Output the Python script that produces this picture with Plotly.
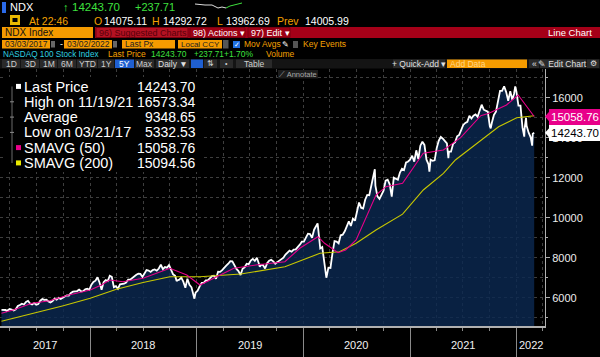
import plotly.graph_objects as go

# ---------------- DATA ----------------
price_dates = [
    "2017-03-03","2017-03-10","2017-03-17","2017-03-21","2017-03-31","2017-04-07","2017-04-14","2017-04-21","2017-04-28",
    "2017-05-05","2017-05-12","2017-05-19","2017-05-26","2017-06-02","2017-06-09","2017-06-16","2017-06-23","2017-06-30",
    "2017-07-07","2017-07-14","2017-07-21","2017-07-28","2017-08-04","2017-08-11","2017-08-18","2017-08-25",
    "2017-09-01","2017-09-08","2017-09-15","2017-09-22","2017-09-29","2017-10-06","2017-10-13","2017-10-20","2017-10-27",
    "2017-11-03","2017-11-10","2017-11-17","2017-11-24","2017-12-01","2017-12-08","2017-12-15","2017-12-22","2017-12-29",
    "2018-01-05","2018-01-12","2018-01-19","2018-01-26","2018-02-02","2018-02-09","2018-02-16","2018-02-23",
    "2018-03-02","2018-03-09","2018-03-16","2018-03-23","2018-03-30","2018-04-06","2018-04-13","2018-04-20","2018-04-27",
    "2018-05-04","2018-05-11","2018-05-18","2018-05-25","2018-06-01","2018-06-08","2018-06-15","2018-06-22","2018-06-29",
    "2018-07-06","2018-07-13","2018-07-20","2018-07-27","2018-08-03","2018-08-10","2018-08-17","2018-08-24","2018-08-31",
    "2018-09-07","2018-09-14","2018-09-21","2018-09-28","2018-10-05","2018-10-12","2018-10-19","2018-10-24","2018-10-26",
    "2018-11-02","2018-11-09","2018-11-16","2018-11-23","2018-11-30","2018-12-07","2018-12-14","2018-12-21","2018-12-24","2018-12-28",
    "2019-01-04","2019-01-11","2019-01-18","2019-01-25","2019-02-01","2019-02-08","2019-02-15","2019-02-22",
    "2019-03-01","2019-03-08","2019-03-15","2019-03-22","2019-03-29","2019-04-05","2019-04-12","2019-04-19","2019-04-26",
    "2019-05-03","2019-05-10","2019-05-17","2019-05-24","2019-05-31","2019-06-07","2019-06-14","2019-06-21","2019-06-28",
    "2019-07-05","2019-07-12","2019-07-19","2019-07-26","2019-08-02","2019-08-05","2019-08-09","2019-08-16","2019-08-23","2019-08-30",
    "2019-09-06","2019-09-13","2019-09-20","2019-09-27","2019-10-04","2019-10-11","2019-10-18","2019-10-25",
    "2019-11-01","2019-11-08","2019-11-15","2019-11-22","2019-11-29","2019-12-06","2019-12-13","2019-12-20","2019-12-27",
    "2020-01-03","2020-01-10","2020-01-17","2020-01-24","2020-01-31","2020-02-07","2020-02-14","2020-02-19","2020-02-21","2020-02-28",
    "2020-03-06","2020-03-13","2020-03-20","2020-03-27","2020-04-03","2020-04-10","2020-04-17","2020-04-24",
    "2020-05-01","2020-05-08","2020-05-15","2020-05-22","2020-05-29","2020-06-05","2020-06-12","2020-06-19","2020-06-26",
    "2020-07-03","2020-07-10","2020-07-17","2020-07-24","2020-07-31","2020-08-07","2020-08-14","2020-08-21","2020-08-28","2020-09-02",
    "2020-09-04","2020-09-11","2020-09-18","2020-09-25","2020-10-02","2020-10-09","2020-10-16","2020-10-23","2020-10-30",
    "2020-11-06","2020-11-13","2020-11-20","2020-11-27","2020-12-04","2020-12-11","2020-12-18","2020-12-24","2020-12-31",
    "2021-01-08","2021-01-15","2021-01-22","2021-01-29","2021-02-05","2021-02-12","2021-02-19","2021-02-26",
    "2021-03-05","2021-03-08","2021-03-12","2021-03-19","2021-03-26","2021-04-02","2021-04-09","2021-04-16","2021-04-23","2021-04-30",
    "2021-05-07","2021-05-12","2021-05-14","2021-05-21","2021-05-28","2021-06-04","2021-06-11","2021-06-18","2021-06-25",
    "2021-07-02","2021-07-09","2021-07-16","2021-07-23","2021-07-30","2021-08-06","2021-08-13","2021-08-20","2021-08-27",
    "2021-09-03","2021-09-10","2021-09-17","2021-09-24","2021-10-01","2021-10-04","2021-10-08","2021-10-15","2021-10-22","2021-10-29",
    "2021-11-05","2021-11-12","2021-11-19","2021-11-26","2021-12-03","2021-12-10","2021-12-17","2021-12-23","2021-12-27","2021-12-31",
    "2022-01-07","2022-01-14","2022-01-21","2022-01-27","2022-01-28","2022-02-02","2022-02-04","2022-02-11","2022-02-18",
    "2022-02-23","2022-02-25","2022-03-02",
]
price_values = [
    5390,5380,5385,5333,5436,5410,5360,5420,5584,
    5636,5700,5660,5788,5845,5710,5660,5730,5647,
    5680,5850,5930,5890,5900,5810,5765,5830,
    5955,5900,5990,5940,6000,6090,6120,6110,6240,
    6300,6330,6330,6400,6320,6330,6420,6450,6396,
    6650,6790,6850,7020,6760,6400,6780,6880,
    6830,7100,7040,6530,6580,6450,6670,6690,6700,
    6760,6900,6900,6980,7100,7150,7200,7190,7040,
    7190,7380,7360,7290,7380,7410,7350,7460,7650,
    7430,7530,7500,7630,7400,7170,7100,6830,6860,
    6900,7000,6800,6500,6950,6650,6520,6000,5950,6250,
    6350,6570,6740,6740,6870,6870,6980,7080,
    7100,6950,7300,7290,7380,7520,7600,7700,7830,
    7820,7600,7440,7330,7130,7450,7520,7700,7670,
    7860,7940,7840,8000,7700,7550,7650,7630,7460,7720,
    7850,7900,7820,7700,7780,7860,7900,8000,
    8160,8250,8350,8300,8400,8420,8520,8650,8800,
    8800,9000,9200,9180,9000,9400,9620,9718,9450,8460,
    8530,7880,7000,7500,7490,8230,8830,8810,
    8720,9120,9150,9320,9550,9820,9590,9950,9850,
    10340,10760,10500,10460,10900,11140,11120,11600,11950,12420,
    11600,11070,10940,11120,11350,11850,11900,11670,11050,
    12000,11950,11900,12260,12450,12380,12760,12800,12888,
    13100,12800,13370,12930,13600,13800,13640,12900,
    12670,12300,12900,12850,12870,13480,13850,14040,13950,13860,
    13720,12980,13300,13300,13690,13770,14070,14140,14360,
    14640,14740,14790,15100,14960,15100,15160,15050,15370,
    15650,15400,15330,15300,14570,14470,14750,15140,15300,15850,
    16340,16340,16573,16280,15850,16330,15900,16200,16560,16320,
    15600,15600,14500,14050,14440,15000,14600,14250,14020,
    13600,14200,14243.70,
]

sma50_dates = ["2017-03-03","2017-04-15","2017-06-15","2017-08-15","2017-10-20","2018-01-01","2018-02-10",
               "2018-03-09","2018-04-23","2018-07-01","2018-10-01","2018-11-28","2019-01-12","2019-03-24",
               "2019-05-08","2019-07-29","2019-10-30","2019-12-20","2020-02-20","2020-03-14","2020-04-29",
               "2020-05-25","2020-06-30","2020-09-06","2020-10-10","2020-12-06","2021-02-15","2021-04-25",
               "2021-06-23","2021-08-31","2021-09-28","2021-11-27","2022-01-06","2022-03-02"]
sma50_values = [5220, 5400, 5720, 5850, 6135, 6385, 6650,
                6885, 6800, 6970, 7470, 7135, 6635, 7135,
                7470, 7650, 7800, 8470, 9050, 8720, 8250,
                8385, 8885, 11135, 11550, 11720, 13220, 13385,
                14000, 15100, 15220, 15635, 16135, 15058.76]

sma200_dates = ["2017-03-03","2017-06-15","2017-10-01","2018-01-01","2018-04-01","2018-07-01","2018-10-01",
                "2019-01-12","2019-06-01","2019-10-30","2020-01-24","2020-02-27","2020-05-04","2020-06-30",
                "2020-09-06","2020-12-06","2021-02-15","2021-04-25","2021-06-05","2021-08-03","2021-09-18",
                "2021-10-31","2022-01-01","2022-03-02"]
sma200_values = [4820, 5200, 5600, 5970, 6420, 6760, 7050,
                 7050, 7185, 7550, 8050, 8220, 8300, 8720,
                 9385, 10180, 11385, 12220, 12885, 13550, 14050,
                 14550, 15000, 15094.56]

year_labels = ["2017", "2018", "2019", "2020", "2021", "2022"]
year_label_pos = ["2017-07-30", "2018-07-02", "2019-07-02", "2020-07-01", "2021-07-02", "2022-02-18"]

legend_labels = ["Last Price", "High on 11/19/21", "Average", "Low on 03/21/17", "SMAVG (50)", "SMAVG (200)"]
legend_values = ["14243.70", "16573.34", "9348.65", "5332.53", "15058.76", "15094.56"]

# ---------------- LAYOUT HELPERS ----------------
PL, PR, PT, PB = 0, 545, 69, 326
FONT = "Liberation Sans, Arial, sans-serif"
ORANGE = "#f59b00"
GREEN = "#3ee03e"
GOLD = "#f5a000"
MAGENTA = "#e8008a"
YELLOW = "#c8c800"


def px(x):
    return (x - PL) / (PR - PL)


def py(y):
    return (PB - y) / (PB - PT)


annotations = []
shapes = []


def txt(x, y, text, color="#ffffff", size=11, anchor="left", bg=None, font=FONT):
    annotations.append(dict(
        x=px(x), y=py(y), xref="paper", yref="paper", text=text,
        showarrow=False, xanchor=anchor, yanchor="middle",
        font=dict(family=font, size=size, color=color),
        bgcolor=bg, borderpad=0))


def rect(x0, y0, x1, y1, fill, line=None, lw=1):
    shapes.append(dict(type="rect", xref="paper", yref="paper",
                       x0=px(x0), x1=px(x1), y0=py(y1), y1=py(y0),
                       fillcolor=fill, line=dict(color=line or fill, width=lw if line else 0),
                       layer="above"))


# ---------------- FIGURE ----------------
fig = go.Figure()
fig.add_trace(go.Scatter(x=price_dates, y=price_values, mode="lines",
                         line=dict(color="#ffffff", width=1.8),
                         fill="tozeroy", fillcolor="rgba(11,40,80,0.82)", hoverinfo="skip"))
fig.add_trace(go.Scatter(x=sma200_dates, y=sma200_values, mode="lines",
                         line=dict(color=YELLOW, width=1.1), hoverinfo="skip"))
fig.add_trace(go.Scatter(x=sma50_dates, y=sma50_values, mode="lines",
                         line=dict(color=MAGENTA, width=1.1), hoverinfo="skip"))

# ---- Header row 1 ----
rect(2, 2, 6, 13, "#2a6ae8")
txt(9, 7.5, "NDX", "#ffffff", 11)
txt(62, 7.5, "↑", GREEN, 11)
txt(71, 7.5, "14243.70", GREEN, 11.5)
txt(134, 7.5, "+237.71", GREEN, 11)
shapes.append(dict(type="path", xref="paper", yref="paper",
                   path="M %f %f L %f %f L %f %f L %f %f L %f %f L %f %f" % (
                       px(195), py(4), px(205), py(5), px(212), py(5), px(218), py(8), px(222), py(7), px(226), py(8)),
                   line=dict(color="#dddddd", width=1)))
shapes.append(dict(type="path", xref="paper", yref="paper",
                   path="M %f %f L %f %f L %f %f L %f %f L %f %f" % (
                       px(226), py(8), px(230), py(6), px(234), py(5), px(238), py(4), px(242), py(3)),
                   line=dict(color=GREEN, width=1)))

# ---- Header row 2 ----
rect(10, 15, 20, 25, "#e8b800")
rect(12.5, 18, 17.5, 22, "#000000")
txt(28, 20.5, "At 22:46", GOLD, 10.5)
txt(93, 20.5, "O", GOLD, 10.5)
txt(103, 20.5, "14075.11", "#ffffff", 10.5)
txt(151, 20.5, "H", GOLD, 10.5)
txt(162, 20.5, "14292.72", "#ffffff", 10.5)
txt(216, 20.5, "L", GOLD, 10.5)
txt(225, 20.5, "13962.69", "#ffffff", 10.5)
txt(276, 20.5, "Prev", GOLD, 10.5)
txt(304, 20.5, "14005.99", "#ffffff", 10.5)

# ---- Header row 3 ----
rect(2, 27, 93, 38, ORANGE)
txt(4, 32.5, "NDX Index", "#111111", 10)
rect(95, 27, 600, 38, "#a50018")
rect(96, 27.5, 188, 37.5, "#b41222", line="#7a0010")
txt(98, 32.5, "96) Suggested Charts", "#58000a", 9)
rect(190, 27.5, 245, 37.5, "#9c0014", line="#7a0010")
txt(192, 32.5, "98) Actions ▾", "#ffffff", 9)
rect(248, 27.5, 290, 37.5, "#9c0014", line="#7a0010")
txt(250, 32.5, "97) Edit ▾", "#ffffff", 9)
txt(593, 32.5, "Line Chart", "#ffffff", 9.5, anchor="right")

# ---- Header row 4 ----
rect(2, 40, 50, 48.5, ORANGE)
txt(4, 44.3, "03/03/2017", "#222222", 8.5)
rect(51, 41, 55, 47.5, "#666666")
txt(58.5, 44.3, "-", "#ffffff", 9)
rect(64, 40, 112, 48.5, ORANGE)
txt(66, 44.3, "03/02/2022", "#222222", 8.5)
rect(113, 41, 117, 47.5, "#666666")
rect(122, 40, 175, 48.5, ORANGE)
txt(124, 44.3, "Last Px", "#222222", 8.5)
rect(178, 40, 222, 48.5, ORANGE)
txt(180, 44.3, "Local CCY", "#222222", 8)
rect(223, 40, 228.5, 48.5, "#555555")
rect(233, 41, 240, 48, "#1f6fe0")
txt(236.5, 44.3, "✓", "#ffffff", 7, anchor="center")
txt(243, 44.3, "Mov Avgs", GOLD, 8.5)
txt(285, 44.3, "✎", "#ffffff", 8, anchor="center")
rect(293, 41, 298, 48, "#555555")
txt(302, 44.3, "Key Events", GOLD, 8.5)

# ---- Header row 5 ----
txt(2, 54, "NASDAQ 100 Stock Index", "#2fd0e0", 8.2)
txt(107, 54, "Last Price", GOLD, 8.5)
txt(150, 54, "14243.70", GREEN, 8.5)
txt(193, 54, "+237.71", GREEN, 8.2)
txt(223, 54, "+1.70%", GREEN, 8.5)
txt(265, 54, "Volume", GOLD, 8.5)

# ---- Toolbar ----
rect(0, 59, 600, 68.5, "#141414")
buttons = [(2, 20, "1D"), (21, 39, "3D"), (40, 57, "1M"), (58, 76, "6M"), (77, 97, "YTD"),
           (98, 114, "1Y"), (135, 154, "Max"), (236, 272, "Table")]
for b0, b1, lab in buttons:
    rect(b0, 59.5, b1, 68, "#2a2a2a")
    txt((b0 + b1) / 2, 63.8, lab, "#cfcfcf", 8.5, anchor="center")
rect(115, 59.5, 134, 68, "#1f5fd0")
txt(124.5, 63.8, "5Y", "#ffffff", 8.5, anchor="center")
rect(156, 59.5, 189, 68, "#2a2a2a")
txt(172.5, 63.8, "Daily ▼", "#e0e0e0", 8.5, anchor="center")
rect(191, 59.5, 203, 68, "#1f5fd0")
rect(204, 59.5, 217, 68, "#2a2a2a")
txt(210.5, 63.8, "⇅", "#cfcfcf", 7.5, anchor="center")
rect(220, 59.5, 233, 68, "#2a2a2a")
txt(226.5, 63.8, "•", "#cfcfcf", 7, anchor="center")
rect(393, 59.5, 445, 68, "#2a2a2a")
txt(419, 63.8, "+ Quick-Add ▾", "#e0e0e0", 8.5, anchor="center")
rect(447, 59.5, 527, 68, ORANGE)
txt(449, 63.8, "Add Data", "#ffd58a", 8.5)
rect(529, 59.5, 539, 68, "#2a2a2a")
txt(534, 63.8, "«", "#e0e0e0", 8.5, anchor="center")
rect(540, 59.5, 586, 68, "#2a2a2a")
txt(563, 63.8, "✎ Edit Chart", "#e0e0e0", 8.5, anchor="center")
rect(587, 59.5, 599, 68, "#2a2a2a")
txt(593, 63.8, "⚙", "#e0e0e0", 7.5, anchor="center")

# Annotate button
rect(278, 70, 318, 78.5, "#1c1c1c")
txt(298, 74.3, "⟋ Annotate", "#a8a8a8", 7.5, anchor="center")

# ---- Legend box ----
rect(4, 77, 203, 172, "#000000")
leg_y = [86.5, 101.8, 117.1, 132.4, 147.7, 163.0]
shapes.append(dict(type="line", xref="paper", yref="paper", x0=px(12), x1=px(12),
                   y0=py(86.5), y1=py(163), line=dict(color="#6a6a6a", width=1), layer="above"))
for yy in leg_y[1:4]:
    shapes.append(dict(type="line", xref="paper", yref="paper", x0=px(10), x1=px(14),
                       y0=py(yy), y1=py(yy), line=dict(color="#8a8a8a", width=1), layer="above"))
marker_cols = ["#ffffff", None, None, None, MAGENTA, "#e8e800"]
for yy, lab, val, mc in zip(leg_y, legend_labels, legend_values, marker_cols):
    if mc:
        rect(16, yy - 2.6, 21, yy + 2.4, mc)
    txt(23, yy, lab, "#ffffff", 14.5)
    txt(197, yy, val, "#ffffff", 14, anchor="right")

# ---- Right price labels ----
for val, bg, fg in [(sma50_values[-1], MAGENTA, "#ffffff"), (price_values[-1], "#ffffff", "#000000")]:
    annotations.append(dict(x=px(549), y=val, xref="paper", yref="y", text="%.2f" % val,
                            showarrow=False, xanchor="left", yanchor="middle",
                            font=dict(family=FONT, size=11.5, color=fg), bgcolor=bg,
                            borderpad=1, bordercolor=bg))
    shapes.append(dict(type="path", xref="paper", yref="y",
                       path="M %f %f L %f %f L %f %f Z" % (px(545), val, px(549.5), val + 260, px(549.5), val - 260),
                       fillcolor=bg, line=dict(color=bg, width=0), layer="above"))

# ---- Year labels ----
for lab, pos in zip(year_labels, year_label_pos):
    annotations.append(dict(x=pos, y=py(345), xref="x", yref="paper", text=lab, showarrow=False,
                            xanchor="center", yanchor="middle",
                            font=dict(family=FONT, size=11, color="#f0f0f0")))

fig.update_layout(
    width=600, height=357,
    margin=dict(l=PL, r=600 - PR, t=PT, b=357 - PB),
    paper_bgcolor="#000000", plot_bgcolor="#000000",
    showlegend=False,
    font=dict(family=FONT, color="#ffffff"),
    shapes=shapes, annotations=annotations,
    xaxis=dict(type="date", range=["2017-02-26", "2022-04-08"],
               showgrid=True, gridcolor="#3e3e3e", griddash="dot", gridwidth=1,
               tick0="2018-01-01", dtick="M12", ticks="outside", ticklen=31, tickcolor="#8a8a8a", tickwidth=1,
               showticklabels=False, showline=True, linecolor="#b0b0b0", linewidth=2, zeroline=False,
               minor=dict(dtick="M3", tick0="2017-01-01", ticks="outside", ticklen=3, tickcolor="#8a8a8a",
                          showgrid=True, gridcolor="#3e3e3e", griddash="dot")),
    yaxis=dict(side="right", range=[4585, 17435], tick0=0, dtick=2000, tickformat="d",
               showgrid=True, gridcolor="#3e3e3e", griddash="dot",
               ticks="outside", ticklen=4, tickcolor="#b0b0b0",
               showline=True, linecolor="#b0b0b0", linewidth=1, zeroline=False,
               tickfont=dict(family=FONT, size=11, color="#eeeeee"),
               minor=dict(dtick=1000, showgrid=True, gridcolor="#3e3e3e", griddash="dot",
                          ticks="outside", ticklen=2, tickcolor="#b0b0b0")),
)

fig.write_html("out.html", config={"displayModeBar": False},
               post_script="document.body.style.margin='0';document.body.style.overflow='hidden';")
